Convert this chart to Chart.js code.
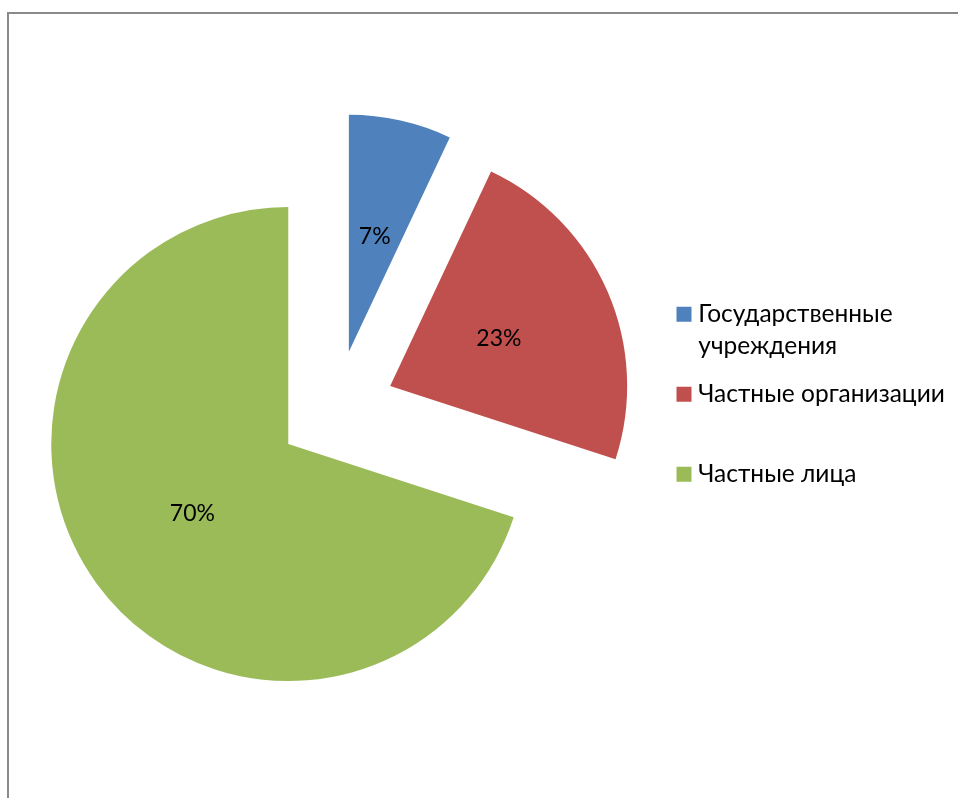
<!DOCTYPE html>
<html lang="ru">
<head>
<meta charset="UTF-8">
<title>Распределение по типам заказчиков</title>
<style>
  html, body { margin: 0; padding: 0; background: #fff; overflow: hidden; width: 958px; height: 798px; }
  #frame {
    position: absolute; left: 7px; top: 12px; right: 0; bottom: 0;
    border-left: 2px solid #8a8a8a; border-top: 2px solid #8a8a8a;
  }
  #chart { position: absolute; left: 0; top: 0; }
</style>
</head>
<body>
<div id="frame"></div>
<canvas id="chart" width="958" height="798"></canvas>

<script src="https://cdn.jsdelivr.net/npm/chart.js@4.4.0/dist/chart.umd.min.js"></script>
<script>
var categories = ['Государственные учреждения', 'Частные организации', 'Частные лица'];
var legendLines = [['Государственные', 'учреждения'], ['Частные организации'], ['Частные лица']];
var shares = [7, 23, 70];
var colors = ['#4f81bd', '#c0504d', '#9bbb59'];

var explodeDistance = 59;
var labelFont = { family: 'Lato', size: 23 };

// every slice is pulled out from the centre along its middle angle
var explodePlugin = {
  id: 'explode',
  beforeDatasetDraw: function(chart, args) {
    var ctx = chart.ctx;
    args.meta.data.forEach(function(arc) {
      var mid = (arc.startAngle + arc.endAngle) / 2;
      ctx.save();
      ctx.translate(Math.cos(mid) * explodeDistance, Math.sin(mid) * explodeDistance);
      arc.draw(ctx);
      ctx.restore();
    });
    return false;
  }
};

// "7%", "23%", "70%" in the middle of each slice
var percentLabels = {
  id: 'percentLabels',
  afterDatasetsDraw: function(chart) {
    var ctx = chart.ctx;
    var meta = chart.getDatasetMeta(0);
    ctx.save();
    ctx.font = labelFont.size + 'px ' + labelFont.family;
    ctx.fillStyle = '#000';
    ctx.textAlign = 'center';
    ctx.textBaseline = 'middle';
    meta.data.forEach(function(arc, i) {
      var mid = (arc.startAngle + arc.endAngle) / 2;
      var p = arc.tooltipPosition();
      ctx.fillText(shares[i] + '%', p.x + Math.cos(mid) * explodeDistance, p.y + Math.sin(mid) * explodeDistance);
    });
    ctx.restore();
  }
};

new Chart(document.getElementById('chart'), {
  type: 'pie',
  data: {
    labels: categories,
    datasets: [{
      data: shares,
      backgroundColor: colors,
      borderWidth: 0,
      hoverOffset: 0
    }]
  },
  options: {
    responsive: false,
    animation: false,
    layout: { padding: { left: 6, right: 6, top: 172.4, bottom: 151.6 } },
    plugins: {
      tooltip: { enabled: false },
      legend: {
        position: 'right',
        maxWidth: 286,
        // empty title only nudges the items a little lower
        title: { display: true, text: '', padding: 0, font: { size: 9, lineHeight: 1 } },
        labels: {
          font: { family: 'Lato', size: 24.5, lineHeight: '32px' },
          color: '#000',
          // small box + thick stroke gives a 15px square close to the text
          boxWidth: 4,
          boxHeight: 4,
          padding: 16,
          generateLabels: function() {
            return legendLines.map(function(lines, i) {
              var text = lines.slice();
              while (text.length < 2) text.push('');
              return {
                text: text,
                fillStyle: colors[i],
                strokeStyle: colors[i],
                lineWidth: 11,
                fontColor: '#000',
                hidden: false,
                index: i
              };
            });
          }
        }
      }
    }
  },
  plugins: [explodePlugin, percentLabels]
});
</script>
</body>
</html>
